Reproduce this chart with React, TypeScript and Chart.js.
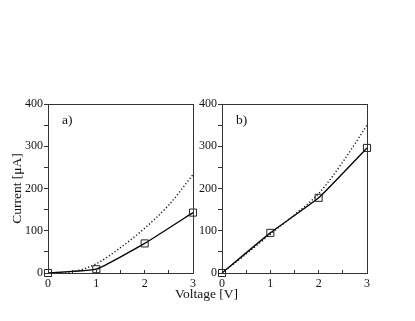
import React, { useEffect, useRef } from "react";
import { Chart, registerables } from "chart.js";

Chart.register(...registerables);

const markerVoltage = [0, 1, 2, 3];
const curveVoltage = [0, 0.5, 1, 1.5, 2, 2.5, 3];

const measuredA = [0, 9, 70, 143];
const modelA = [0, 3, 22, 60, 106, 161, 233];

const measuredB = [0, 95, 178, 296];
const modelB = [0, 45, 92, 138, 188, 263, 350];

const yTicksMax = 400;
const xTicksMax = 3;

const SERIF = "'Liberation Serif', 'Times New Roman', serif";

const framePlugin = {
  id: "frame",
  afterDraw(chart: any) {
    const { ctx, chartArea } = chart;
    ctx.save();
    ctx.strokeStyle = "#333";
    ctx.lineWidth = 1;
    ctx.strokeRect(
      Math.round(chartArea.left) + 0.5,
      Math.round(chartArea.top) + 0.5,
      Math.round(chartArea.right - chartArea.left),
      Math.round(chartArea.bottom - chartArea.top)
    );
    ctx.restore();
  },
};

function makeConfig(measured: number[], model: number[], yAxisWidth: number, showTitle: boolean) {
  return {
    type: "line" as const,
    data: {
      datasets: [
        {
          data: curveVoltage.map((x, i) => ({ x, y: model[i] })),
          borderColor: "#111",
          borderWidth: 1.4,
          borderDash: [1.2, 2.2],
          pointRadius: 0,
          cubicInterpolationMode: "monotone" as const,
          fill: false,
        },
        {
          data: markerVoltage.map((x, i) => ({ x, y: measured[i] })),
          borderColor: "#000",
          borderWidth: 1.3,
          pointStyle: "rect" as const,
          pointRadius: 5,
          pointBorderWidth: 1,
          pointBorderColor: "#222",
          pointBackgroundColor: "rgba(255,255,255,0)",
          tension: 0.12,
          fill: false,
          clip: false as any,
        },
      ],
    },
    options: {
      animation: false as const,
      responsive: false,
      maintainAspectRatio: false,
      layout: { padding: { top: 10, right: 7, left: 0, bottom: 0 } },
      plugins: { legend: { display: false }, tooltip: { enabled: false } },
      scales: {
        x: {
          type: "linear" as const,
          min: 0,
          max: xTicksMax,
          afterFit: (s: any) => {
            s.height = 17;
          },
          ticks: {
            stepSize: 0.5,
            padding: 7,
            maxRotation: 0,
            autoSkip: false,
            color: "#111",
            font: { family: SERIF, size: 12 },
            callback: (v: any) => (Number.isInteger(v) ? String(v) : ""),
          },
          grid: {
            display: true,
            drawOnChartArea: false,
            drawTicks: true,
            tickLength: -3,
            color: "#333",
          },
          border: { display: true, color: "#333" },
        },
        y: {
          type: "linear" as const,
          min: 0,
          max: yTicksMax,
          afterFit: (s: any) => {
            s.width = yAxisWidth;
          },
          ticks: {
            stepSize: 50,
            padding: 1,
            autoSkip: false,
            color: "#111",
            font: { family: SERIF, size: 12 },
            callback: (v: any) => (v % 100 === 0 ? String(v) : ""),
          },
          grid: {
            display: true,
            drawOnChartArea: false,
            drawTicks: true,
            tickLength: 4,
            color: "#333",
          },
          border: { display: true, color: "#333" },
          title: {
            display: showTitle,
            text: "Current [μA]",
            color: "#111",
            font: { family: SERIF, size: 13.5 },
            padding: { top: 9, bottom: 0 },
          },
        },
      },
    },
    plugins: [framePlugin],
  };
}

function Panel(props: {
  measured: number[];
  model: number[];
  left: number;
  width: number;
  yAxisWidth: number;
  showTitle: boolean;
}) {
  const ref = useRef<HTMLCanvasElement | null>(null);
  useEffect(() => {
    if (!ref.current) return;
    const chart = new Chart(
      ref.current,
      makeConfig(props.measured, props.model, props.yAxisWidth, props.showTitle) as any
    );
    return () => chart.destroy();
  }, []);
  return (
    <canvas
      ref={ref}
      width={props.width}
      height={196}
      style={{ position: "absolute", left: props.left, top: 94, width: props.width, height: 196 }}
    />
  );
}

const labelStyle: React.CSSProperties = {
  position: "absolute",
  fontFamily: SERIF,
  fontSize: 13.5,
  color: "#111",
  lineHeight: "16px",
  whiteSpace: "nowrap",
};

export default function App() {
  return (
    <div
      style={{
        position: "absolute",
        left: 0,
        top: 0,
        width: 415,
        height: 321,
        background: "#fff",
        overflow: "hidden",
      }}
    >
      <Panel measured={measuredA} model={modelA} left={0} width={203} yAxisWidth={48} showTitle={true} />
      <Panel measured={measuredB} model={modelB} left={195} width={182} yAxisWidth={27} showTitle={false} />
      <div style={{ ...labelStyle, left: 62, top: 112 }}>a)</div>
      <div style={{ ...labelStyle, left: 236, top: 112 }}>b)</div>
      <div style={{ ...labelStyle, left: 175, top: 286 }}>Voltage [V]</div>
    </div>
  );
}
